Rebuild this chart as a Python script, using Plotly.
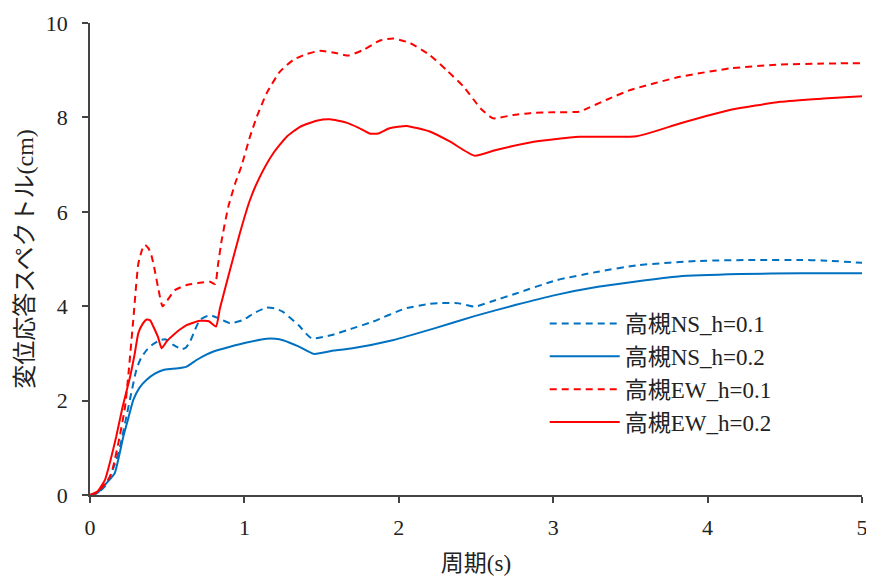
import plotly.graph_objects as go

# 高槻NS_h=0.1
ns01_t = [0, 0.05, 0.1, 0.13, 0.17, 0.2, 0.24, 0.27, 0.30, 0.33, 0.367, 0.41, 0.453, 0.486, 0.51, 0.54,
          0.594, 0.62, 0.648, 0.68, 0.712, 0.777, 0.842, 0.907, 0.993, 1.06, 1.144, 1.2, 1.25, 1.35, 1.435,
          1.567, 1.7, 1.83, 2.04, 2.2, 2.28, 2.39, 2.49, 2.6, 2.76, 3.02, 3.29, 3.55, 3.95, 4.34, 4.6, 4.74, 5.0]
ns01_v = [0, 0.04, 0.2, 0.4, 0.74, 1.1, 1.73, 2.2, 2.65, 2.9, 3.07, 3.2, 3.28, 3.30, 3.26, 3.18,
          3.09, 3.12, 3.25, 3.5, 3.71, 3.81, 3.73, 3.64, 3.71, 3.85, 3.97, 3.95, 3.88, 3.6, 3.32,
          3.39, 3.53, 3.67, 3.95, 4.05, 4.07, 4.06, 3.99, 4.1, 4.27, 4.55, 4.73, 4.87, 4.96, 4.98, 4.98, 4.97, 4.92]

# 高槻NS_h=0.2
ns02_t = [0, 0.05, 0.086, 0.12, 0.16, 0.19, 0.216, 0.25, 0.28, 0.32, 0.367, 0.42, 0.475, 0.52, 0.56, 0.626,
          0.69, 0.75, 0.80, 0.907, 1.015, 1.144, 1.2, 1.25, 1.35, 1.45, 1.58, 1.70, 1.96, 2.23, 2.49, 2.76,
          3.02, 3.29, 3.55, 3.81, 4.21, 4.61, 5.0]
ns02_v = [0, 0.05, 0.18, 0.3, 0.46, 0.85, 1.24, 1.65, 2.01, 2.27, 2.44, 2.57, 2.65, 2.67, 2.68, 2.72,
          2.86, 2.97, 3.04, 3.14, 3.23, 3.31, 3.31, 3.28, 3.15, 2.99, 3.06, 3.11, 3.28, 3.53, 3.79, 4.03,
          4.24, 4.41, 4.53, 4.63, 4.68, 4.70, 4.70]

# 高槻EW_h=0.1
ew01_t = [0, 0.05, 0.1, 0.13, 0.15, 0.19, 0.227, 0.25, 0.28, 0.313, 0.34, 0.356, 0.38, 0.4, 0.42, 0.44,
          0.47, 0.5, 0.55, 0.626, 0.7, 0.777, 0.81, 0.83, 0.853, 0.896, 0.94, 0.98, 1.036, 1.08, 1.144,
          1.23, 1.317, 1.40, 1.49, 1.6, 1.673, 1.77, 1.878, 1.965, 2.07, 2.2, 2.31, 2.42, 2.53, 2.61,
          2.74, 2.85, 3.0, 3.17, 3.2, 3.35, 3.5, 3.82, 4.15, 4.47, 4.75, 5.0]
ew01_v = [0, 0.06, 0.25, 0.39, 0.6, 1.2, 1.87, 2.6, 3.7, 4.9, 5.22, 5.30, 5.22, 5.05, 4.75, 4.41,
          4.0, 4.12, 4.34, 4.45, 4.49, 4.52, 4.47, 4.9, 5.40, 6.11, 6.60, 6.96, 7.59, 8.01, 8.51,
          8.97, 9.22, 9.34, 9.41, 9.36, 9.31, 9.43, 9.63, 9.67, 9.58, 9.32, 9.0, 8.65, 8.19, 7.98,
          8.05, 8.09, 8.11, 8.12, 8.16, 8.38, 8.58, 8.86, 9.04, 9.12, 9.14, 9.15]

# 高槻EW_h=0.2
ew02_t = [0, 0.05, 0.097, 0.13, 0.17, 0.21, 0.26, 0.29, 0.313, 0.34, 0.367, 0.39, 0.41, 0.44, 0.464, 0.5,
          0.54, 0.58, 0.626, 0.712, 0.77, 0.816, 0.842, 0.907, 0.97, 1.036, 1.10, 1.187, 1.274, 1.36,
          1.468, 1.554, 1.66, 1.74, 1.81, 1.867, 1.94, 2.05, 2.20, 2.33, 2.49, 2.63, 2.85, 3.17, 3.54,
          3.82, 4.15, 4.47, 4.75, 5.0]
ew02_v = [0, 0.08, 0.32, 0.7, 1.24, 1.85, 2.51, 3.0, 3.43, 3.62, 3.72, 3.70, 3.57, 3.35, 3.11, 3.27,
          3.39, 3.50, 3.60, 3.69, 3.68, 3.57, 3.96, 4.77, 5.54, 6.25, 6.74, 7.24, 7.59, 7.80,
          7.93, 7.96, 7.89, 7.78, 7.66, 7.66, 7.77, 7.82, 7.70, 7.49, 7.19, 7.31, 7.47, 7.59, 7.60,
          7.87, 8.16, 8.33, 8.40, 8.45]

x_ticks = [0, 1, 2, 3, 4, 5]
y_ticks = [0, 2, 4, 6, 8, 10]

BLUE = '#0070C0'
RED = '#FF0000'
DASH = '7px,5px'
FONT = '"Liberation Serif", "Noto Sans CJK JP", serif'

fig = go.Figure()
series = [
    ('高槻NS_h=0.1', ns01_t, ns01_v, BLUE, DASH),
    ('高槻NS_h=0.2', ns02_t, ns02_v, BLUE, 'solid'),
    ('高槻EW_h=0.1', ew01_t, ew01_v, RED, DASH),
    ('高槻EW_h=0.2', ew02_t, ew02_v, RED, 'solid'),
]
for name, t, v, c, d in series:
    fig.add_trace(go.Scatter(x=t, y=v, name=name, mode='lines', legendgroup=name,
                             line=dict(color=c, width=2, dash=d, shape='spline', smoothing=0.5)))

# page body has an 8px margin, so the figure is sized to fit the 874x576 window
fig.update_layout(
    width=866, height=568,
    margin=dict(l=82, r=12, t=15, b=81),
    plot_bgcolor='white', paper_bgcolor='white',
    font=dict(family=FONT, size=22, color='#222222'),
    showlegend=True,
    legend=dict(x=0.589, y=0.409, xanchor='left', yanchor='top',
                bgcolor='rgba(0,0,0,0)', font=dict(size=23, family=FONT),
                itemwidth=70, tracegroupgap=0, traceorder='grouped'),
)
fig.update_xaxes(range=[0, 5], tickvals=x_ticks, showline=True, linecolor='#444444', linewidth=1.5,
                 ticks='outside', ticklen=6, tickcolor='#444444', tickwidth=1.5, showgrid=False,
                 zeroline=False, ticklabelstandoff=6, automargin=False,
                 tickfont=dict(family=FONT, size=22),
                 title=dict(text='周期(s)', font=dict(size=23, family=FONT), standoff=17))
fig.update_yaxes(range=[0, 10], tickvals=y_ticks, showline=True, linecolor='#444444', linewidth=1.5,
                 ticks='outside', ticklen=6, tickcolor='#444444', tickwidth=1.5, showgrid=False,
                 zeroline=False, ticklabelstandoff=10, automargin=False,
                 tickfont=dict(family=FONT, size=22),
                 title=dict(text='変位応答スペクトル(cm)', font=dict(size=24, family=FONT), standoff=5))

fig.write_html('out.html')
